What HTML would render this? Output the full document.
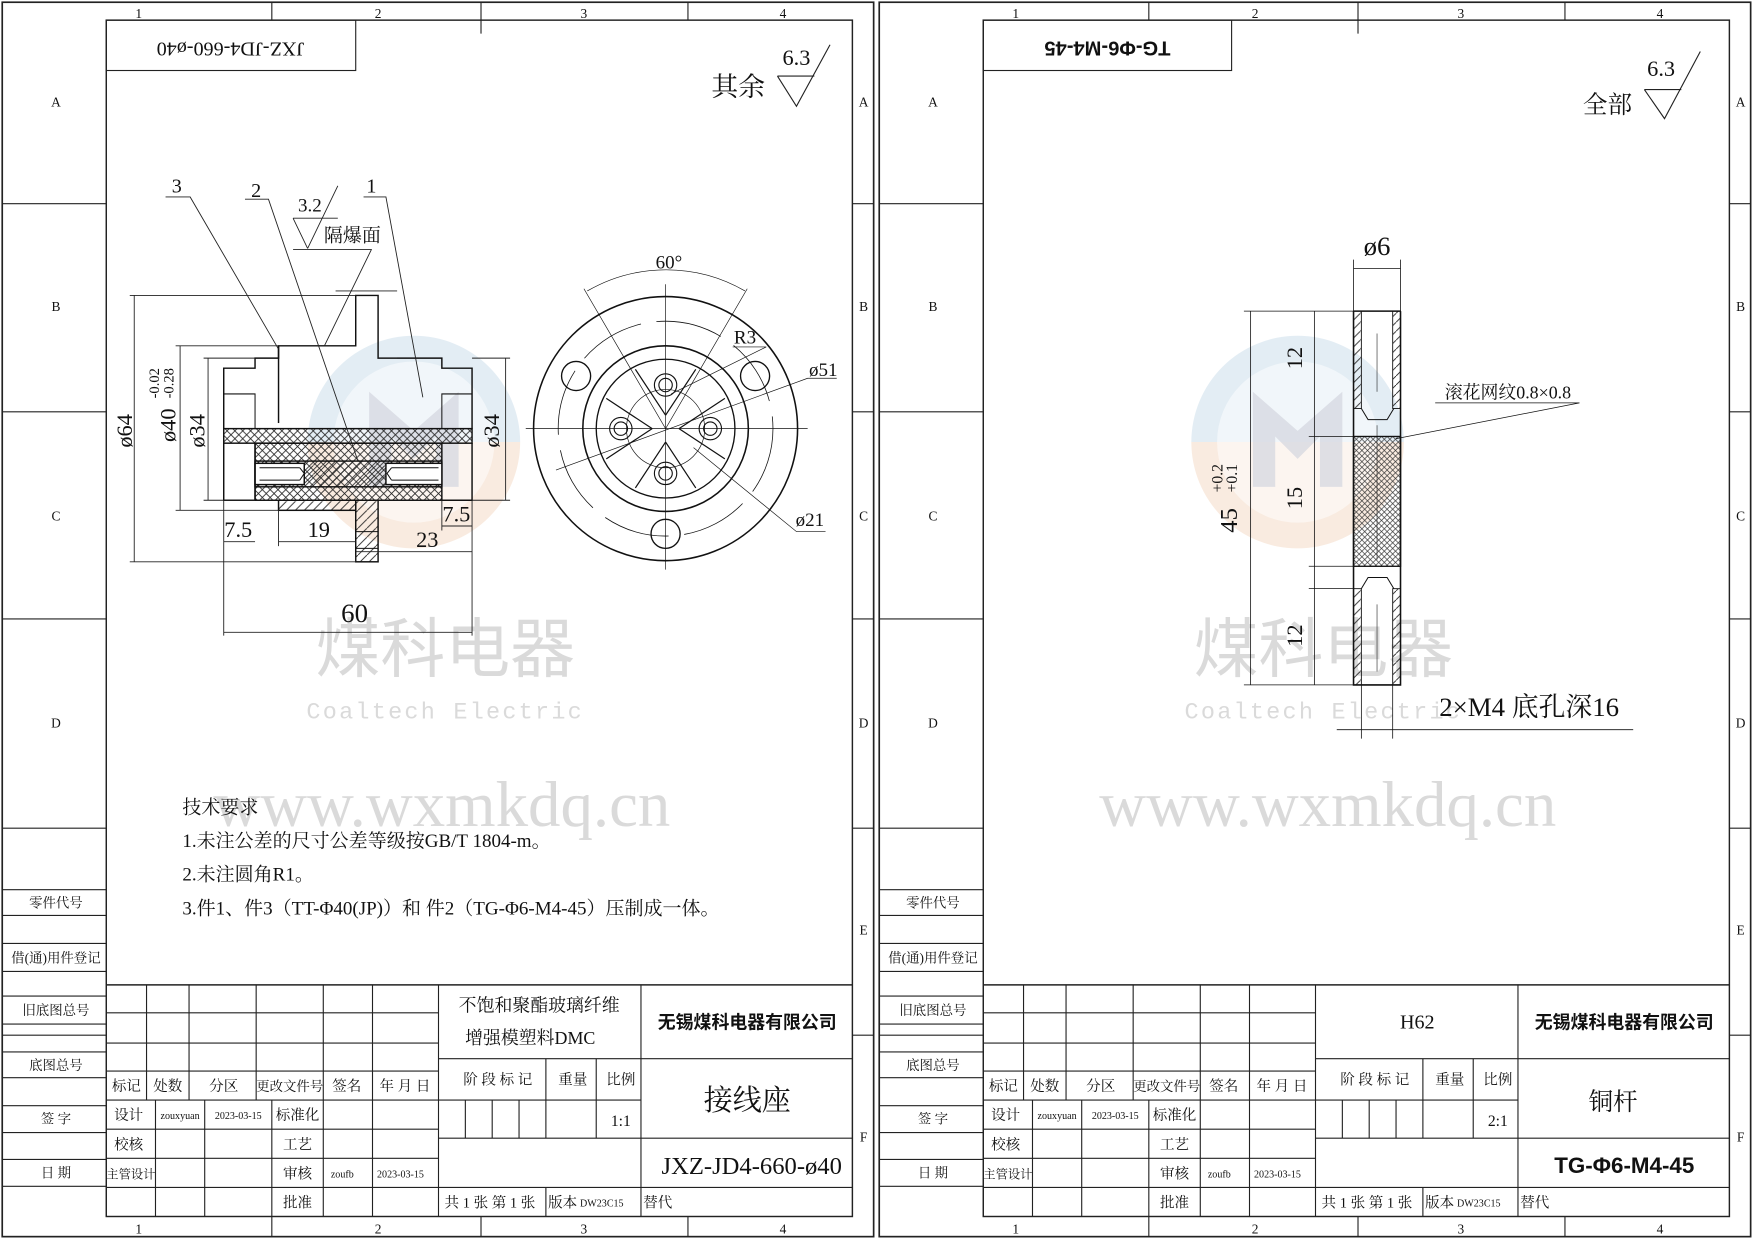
<!DOCTYPE html>
<html><head><meta charset="utf-8"><style>
html,body{margin:0;padding:0;background:#fff;}
svg{display:block;}
text{font-family:"Liberation Serif","Noto Serif CJK SC","Noto Sans CJK SC",serif;fill:#111;}
.s{font-family:"Liberation Sans","Noto Sans CJK SC",sans-serif;}
text.w{fill:#dadada;}
</style></head><body>
<svg width="1754" height="1240" viewBox="0 0 1568 1108" preserveAspectRatio="none" xmlns="http://www.w3.org/2000/svg">
<defs>
<pattern id="xh" width="7" height="7" patternUnits="userSpaceOnUse"><path d="M0,0L7,7M7,0L0,7" stroke="#222" stroke-width="0.7"/></pattern>
<pattern id="dh" width="8" height="8" patternUnits="userSpaceOnUse"><path d="M0,8L8,0" stroke="#222" stroke-width="0.8"/></pattern>
<pattern id="xs" width="5" height="5" patternUnits="userSpaceOnUse"><path d="M0,0L5,5M5,0L0,5" stroke="#333" stroke-width="0.6"/></pattern>
<linearGradient id="lg" x1="0" y1="0" x2="0" y2="1"><stop offset="0.5" stop-color="#e3edf4"/><stop offset="0.5" stop-color="#f9ebe0"/></linearGradient>
<g id="frame" fill="none" stroke="#222" stroke-width="1">
 <rect x="2" y="2" width="779" height="1103" stroke-width="1.5"/>
 <rect x="95" y="18" width="667" height="1069" stroke-width="1.3"/>
 <path d="M243,2V18M430,2V18M615,2V18M430,18V30M243,1087V1105M430,1087V1105M615,1087V1105"/>
 <path d="M2,182H95M2,368H95M2,553H95M2,740H95M2,925H95M762,182H781M762,368H781M762,553H781M762,740H781M762,925H781"/>
 <path d="M2,795H95M2,818H95M2,843H95M2,868H95M2,890H95M2,915H95M2,940H95M2,963H95M2,988H95M2,1012H95M2,1036H95M2,1060H95"/>
 <path d="M95,880H762" stroke-width="1.3"/>
 <path d="M95,905H392M95,932H392M95,957H392M95,983H392M95,1009H392M95,1035H392M95,1061H392"/>
 <path d="M392,946H573M392,983H573M392,1017H573M392,1061H762M573,946H762M573,1017H762"/>
 <path d="M131,880V983M169,880V983M229,880V983M139,983V1087M183,983V1087M243,983V1087M289,880V1087M333,880V1087"/>
 <path d="M392,880V1087M573,880V1087M488,946V1017M533,946V1017M416,983V1017M440,983V1017M464,983V1017M488,1061V1087" />
 <g stroke="none">
 <text x="124" y="16" font-size="12" text-anchor="middle">1</text><text x="338" y="16" font-size="12" text-anchor="middle">2</text><text x="522" y="16" font-size="12" text-anchor="middle">3</text><text x="700" y="16" font-size="12" text-anchor="middle">4</text>
 <text x="124" y="1102" font-size="12" text-anchor="middle">1</text><text x="338" y="1102" font-size="12" text-anchor="middle">2</text><text x="522" y="1102" font-size="12" text-anchor="middle">3</text><text x="700" y="1102" font-size="12" text-anchor="middle">4</text>
 <g font-size="12" text-anchor="middle"><text x="50" y="95">A</text><text x="50" y="278">B</text><text x="50" y="465">C</text><text x="50" y="650">D</text>
 <text x="772" y="95">A</text><text x="772" y="278">B</text><text x="772" y="465">C</text><text x="772" y="650">D</text><text x="772" y="835">E</text><text x="772" y="1020">F</text></g>
 <g font-size="12" text-anchor="middle" class="s"><text x="50" y="811">零件代号</text><text x="50" y="860">借(通)用件登记</text><text x="50" y="907">旧底图总号</text><text x="50" y="956">底图总号</text><text x="50" y="1004">签 字</text><text x="50" y="1052">日 期</text></g>
 <g font-size="13" text-anchor="middle"><text x="113" y="975">标记</text><text x="150" y="975">处数</text><text x="200" y="975">分区</text><text x="259" y="975" font-size="12">更改文件号</text><text x="310" y="975">签名</text><text x="362" y="975">年 月 日</text>
 <text x="115" y="1001">设计</text><text x="266" y="1001">标准化</text><text x="115" y="1027">校核</text><text x="266" y="1027">工艺</text><text x="117" y="1053" font-size="11">主管设计</text><text x="266" y="1053">审核</text><text x="266" y="1079">批准</text>
 <text x="445" y="969">阶 段 标 记</text><text x="512" y="969">重量</text><text x="555" y="969">比例</text>
 <text x="438" y="1079">共 1 张  第 1 张</text><text x="503" y="1079">版本</text><text x="588" y="1079">替代</text></g>
 <g font-size="9" text-anchor="middle"><text x="161" y="1000">zouxyuan</text><text x="213" y="1000">2023-03-15</text><text x="306" y="1052">zoufb</text><text x="358" y="1052">2023-03-15</text><text x="538" y="1078">DW23C15</text></g>
 </g>
</g>
<g id="wm">
 <circle cx="0" cy="0" r="95" fill="url(#lg)"/>
 <circle cx="0" cy="0" r="72" fill="#fff" opacity="0.5"/>
 <path d="M-40,-45L0,-10L40,-45V40H20V-5L0,15L-20,-5V40H-40Z" fill="#d3d6de" opacity="0.7"/>
</g>
</defs>
<rect width="1568" height="1108" fill="#fff"/>

<use href="#wm" x="370" y="395"/>
<use href="#wm" x="1160" y="395"/>
<g text-anchor="middle">
<text class="w s" x="398" y="600" font-size="58">煤科电器</text>
<text class="w" x="398" y="642" font-size="21" font-family="Liberation Mono" letter-spacing="2" style="font-family:'Liberation Mono',monospace">Coaltech Electric</text>
<text class="w" x="395" y="738" font-size="58">www.wxmkdq.cn</text>
<text class="w s" x="1183" y="600" font-size="58">煤科电器</text>
<text class="w" x="1183" y="642" font-size="21" letter-spacing="2" style="font-family:'Liberation Mono',monospace">Coaltech Electric</text>
<text class="w" x="1187" y="738" font-size="58">www.wxmkdq.cn</text>
</g>

<use href="#frame"/>
<use href="#frame" x="784"/>

<rect x="95" y="18" width="223" height="45" fill="none" stroke="#222"/>
<text transform="translate(206,42) rotate(180)" font-size="18" text-anchor="middle" dominant-baseline="middle">JXZ-JD4-660-ø40</text>
<rect x="879" y="18" width="222" height="45" fill="none" stroke="#222"/>
<text transform="translate(990,42) rotate(180)" font-size="18" text-anchor="middle" dominant-baseline="middle" class="s" font-weight="bold">TG-Φ6-M4-45</text>

<g text-anchor="middle">
<text x="482" y="904" font-size="16">不饱和聚酯玻璃纤维</text><text x="474" y="933" font-size="16">增强模塑料DMC</text>
<text x="668" y="919" font-size="16" class="s" font-weight="bold">无锡煤科电器有限公司</text>
<text x="668" y="992" font-size="26">接线座</text><text x="555" y="1006" font-size="14">1:1</text>
<text x="672" y="1049" font-size="22">JXZ-JD4-660-ø40</text>
<text x="1267" y="919" font-size="18">H62</text>
<text x="1452" y="919" font-size="16" class="s" font-weight="bold">无锡煤科电器有限公司</text>
<text x="1442" y="992" font-size="22">铜杆</text><text x="1339" y="1006" font-size="14">2:1</text>
<text x="1452" y="1048" font-size="20" class="s" font-weight="bold">TG-Φ6-M4-45</text>
</g>

<text x="660" y="86" font-size="24" text-anchor="middle">其余</text>
<text x="712" y="58" font-size="20" text-anchor="middle">6.3</text>
<path d="M695,68H728M695,68L712,95L742,40" fill="none" stroke="#222"/>
<text x="1437" y="101" font-size="22" text-anchor="middle">全部</text>
<text x="1485" y="68" font-size="20" text-anchor="middle">6.3</text>
<path d="M1470,80H1503M1470,80L1488,106L1520,46" fill="none" stroke="#222"/>

<g font-size="17" class="s"><text x="163" y="727">技术要求</text>
<text x="163" y="757">1.未注公差的尺寸公差等级按GB/T 1804-m。</text>
<text x="163" y="787">2.未注圆角R1。</text>
<text x="163" y="817">3.件1、件3（TT-Φ40(JP)）和 件2（TG-Φ6-M4-45）压制成一体。</text></g>

<g stroke="#111" stroke-width="1.3" fill="none">
 <rect x="200" y="383" width="222" height="13" fill="url(#xh)"/>
 <rect x="228" y="396" width="167" height="51" fill="url(#xh)"/>
 <rect x="228" y="412" width="167" height="23" fill="url(#dh)"/>
 <rect x="228" y="414" width="44" height="19" fill="#fff"/>
 <rect x="345" y="414" width="50" height="19" fill="#fff"/>
 <path d="M232,418H268M232,429H268M268,418L272,423L268,429M350,418H392M350,429H392M350,418L346,423L350,429" stroke-width="0.9"/>
 <path d="M200,383V329H228V320H249V309H318V264H338V320H395V329H422V383"/>
 <path d="M200,396V447H228M395,447H422V396M228,396V447"/>
 <path d="M249,309V378"/>
 <rect x="249" y="447" width="69" height="9" fill="url(#dh)"/>
 <rect x="318" y="447" width="20" height="55" fill="url(#dh)"/>
 <path d="M318,475H338M318,490H338" stroke-width="0.9"/>
 <path d="M200,352H228V383M395,383V352H422" stroke-width="0.9"/>
</g>
<g stroke="#222" stroke-width="0.8" fill="none">
 <path d="M116,264H318M116,502H318M120,264V502M157,309H249M157,456H249M161,309V456M182,320H228M182,447H228M186,320V447M422,320H456M422,447H456M452,320V447"/>
 <path d="M200,447V568M422,447V568M200,565H422M249,456V488M318,502V496M200,484H228M249,484H318M318,493H422M395,470H422M395,447V474M338,320H355M300,260H355"/>
 <path d="M148,176H170L249,312M219,178H240L320,412M325,176H345L378,355"/>
 <path d="M302,166L275,222M262,195H302M262,195L275,222M262,223H332L290,309"/>
</g>
<g font-size="20" text-anchor="middle">
 <text transform="translate(118,385) rotate(-90)">ø64</text>
 <text transform="translate(157,380) rotate(-90)">ø40</text>
 <text transform="translate(142,356) rotate(-90)" font-size="13" text-anchor="start">-0.02</text>
 <text transform="translate(155,356) rotate(-90)" font-size="13" text-anchor="start">-0.28</text>
 <text transform="translate(183,385) rotate(-90)">ø34</text>
 <text transform="translate(446,385) rotate(-90)">ø34</text>
 <text x="213" y="480">7.5</text><text x="285" y="480">19</text><text x="382" y="489">23</text><text x="408" y="466">7.5</text>
 <text x="317" y="556" font-size="24">60</text>
 <text x="158" y="172" font-size="18">3</text><text x="229" y="176" font-size="18">2</text><text x="332" y="172" font-size="18">1</text>
 <text x="277" y="189" font-size="17">3.2</text><text x="315" y="216" font-size="17">隔爆面</text>
</g>

<g stroke="#111" fill="none">
 <circle cx="595" cy="383" r="118" stroke-width="1.4"/>
 <circle cx="595" cy="383" r="96" stroke-width="0.7" stroke-dasharray="60 14"/>
 <circle cx="595" cy="383" r="74" stroke-width="1.4"/>
 <circle cx="595" cy="383" r="62" stroke-width="1.2"/>
 <circle cx="595" cy="383" r="35" stroke-width="0.6"/>
 <circle cx="515" cy="336" r="13" stroke-width="1.2"/><circle cx="675" cy="336" r="13" stroke-width="1.2"/><circle cx="595" cy="477" r="13" stroke-width="1.2"/>
 <g stroke-width="1.1">
 <path d="M595,371L568,330M595,371L622,330"/>
 <path d="M595,395L568,436M595,395L622,436"/>
 <path d="M583,383L542,356M583,383L542,410"/>
 <path d="M607,383L648,356M607,383L648,410"/>
 </g>
 <g stroke-width="1"><circle cx="595" cy="344" r="10"/><circle cx="595" cy="344" r="6"/><circle cx="555" cy="383" r="10"/><circle cx="555" cy="383" r="6"/><circle cx="635" cy="383" r="10"/><circle cx="635" cy="383" r="6"/><circle cx="595" cy="423" r="10"/><circle cx="595" cy="423" r="6"/></g>
 <g stroke-width="0.6"><path d="M470,383H722M595,254V509"/>
 <path d="M595,383L522,258M595,383L668,258"/>
 <path d="M525,260A141,141 0 0 1 666,260"/>
 <path d="M655,310H685L600,352M497,420L722,338H748M620,400L712,475H738"/></g>
</g>
<g font-size="17" text-anchor="middle"><text x="598" y="240">60°</text><text x="666" y="307">R3</text><text x="736" y="336">ø51</text><text x="724" y="470">ø21</text></g>

<g stroke="#111" fill="none">
 <rect x="1210" y="390" width="42" height="116" fill="url(#xs)" stroke-width="1.2"/>
 <rect x="1210" y="278" width="7" height="87" fill="url(#dh)" stroke-width="0.8"/>
 <rect x="1245" y="278" width="7" height="87" fill="url(#dh)" stroke-width="0.8"/>
 <rect x="1210" y="526" width="7" height="86" fill="url(#dh)" stroke-width="0.8"/>
 <rect x="1245" y="526" width="7" height="86" fill="url(#dh)" stroke-width="0.8"/>
 <path d="M1210,278H1252M1210,278V612H1252V278" stroke-width="1.4"/>
 <path d="M1217,365L1223,375H1240L1246,365M1217,526L1223,516H1240L1246,526" stroke-width="0.9"/>
 <path d="M1231,298V350M1231,380V500M1231,540V600" stroke-width="0.5"/>
 <g stroke-width="0.7">
 <path d="M1210,232V278M1252,232V278M1210,240H1252M1112,278H1210M1112,612H1210M1118,278V612M1170,390H1210M1170,506H1210M1170,526H1210M1175,278V612"/>
 <path d="M1283,360H1412L1248,392M1217,612V660M1245,612V660M1195,652H1460"/>
 </g>
</g>
<g font-size="20" text-anchor="middle">
 <text x="1231" y="228" font-size="24">ø6</text>
 <text transform="translate(1164,320) rotate(-90)">12</text>
 <text transform="translate(1164,445) rotate(-90)">15</text>
 <text transform="translate(1164,568) rotate(-90)">12</text>
 <text transform="translate(1106,465) rotate(-90)" font-size="22">45</text>
 <text transform="translate(1093,440) rotate(-90)" font-size="14" text-anchor="start">+0.2</text>
 <text transform="translate(1106,440) rotate(-90)" font-size="14" text-anchor="start">+0.1</text>
 <text x="1348" y="356" font-size="16">滚花网纹0.8×0.8</text>
 <text x="1367" y="640" font-size="24">2×M4 底孔深16</text>
</g>
</svg>
</body></html>
